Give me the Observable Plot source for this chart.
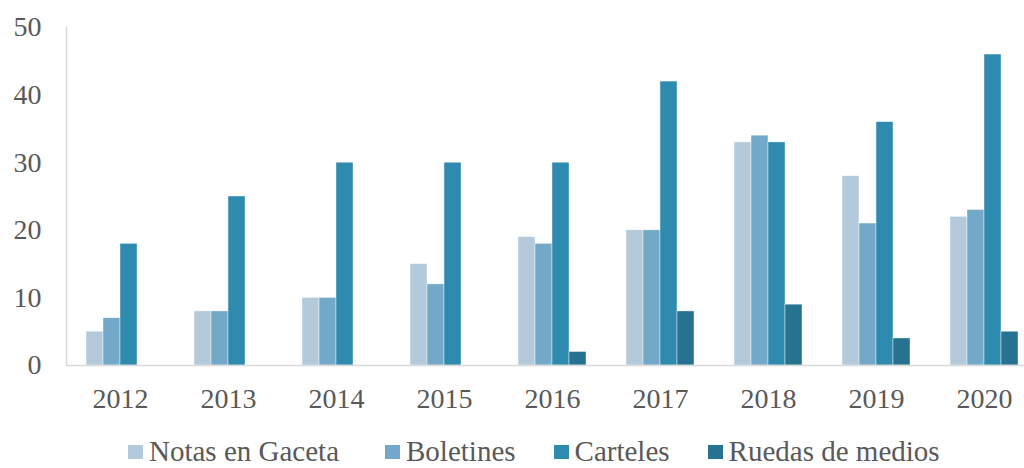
<!DOCTYPE html>
<html>
<head>
<meta charset="utf-8">
<script src="https://cdn.jsdelivr.net/npm/d3@7"></script>
<script src="https://cdn.jsdelivr.net/npm/@observablehq/plot@0.6"></script>
<style>
  html, body { margin: 0; padding: 0; background: #fff; overflow: hidden; width: 1024px; height: 468px; }
  #chart { position: absolute; left: 0; top: 0; width: 1040px; }
  #chart svg { max-width: none !important; }
  #legend { position: absolute; top: 439px; left: 128px; display: flex; align-items: center;
    font-family: "Liberation Serif", "Times New Roman", serif; font-size: 29px; line-height: 24px; color: #595959; white-space: nowrap; }
  #legend .item { display: flex; align-items: center; }
  #legend .sw { width: 15px; height: 14px; margin-right: 6px; position: relative; top: 1px; }
</style>
</head>
<body>
<div id="chart"></div>
<div id="legend"></div>
<script>
const years = ["2012","2013","2014","2015","2016","2017","2018","2019","2020"];
const series = ["Notas en Gaceta","Boletines","Carteles","Ruedas de medios"];
const colors = ["#b3c9dc","#73a9c8","#2e8aaf","#287291"];
const notas    = [5, 8, 10, 15, 19, 20, 33, 28, 22];
const boletines= [7, 8, 10, 12, 18, 20, 34, 21, 23];
const carteles = [18, 25, 30, 30, 30, 42, 33, 36, 46];
const ruedas   = [0, 0, 0, 0, 2, 8, 9, 4, 5];
const yTicks = [0, 10, 20, 30, 40, 50];

const valuesBySeries = [notas, boletines, carteles, ruedas];
const data = [];
years.forEach((yr, i) => {
  series.forEach((s, j) => {
    data.push({year: yr, series: s, value: valuesBySeries[j][i]});
  });
});

const font = '"Liberation Serif", "Times New Roman", serif';

const plot = Plot.plot({
  width: 1040,
  height: 430,
  marginLeft: 66,
  marginRight: 2,
  marginTop: 27,
  marginBottom: 65,
  style: {fontFamily: font, fontSize: "28px", color: "#595959", background: "white", overflow: "visible", maxWidth: "none"},
  fx: {domain: years, padding: 0, label: null, axis: null},
  x: {domain: series, padding: 0, paddingOuter: 1.086, axis: null},
  y: {domain: [0, 50], ticks: yTicks, label: null},
  color: {domain: series, range: colors},
  marks: [
    Plot.barY(data.filter(d => d.value > 0), {
      fx: "year", x: "series", y: "value", fill: "series",
      stroke: "white", strokeWidth: 0.6, strokeOpacity: 0.7
    }),
    Plot.ruleY([0], {stroke: "#d9d9d9", strokeWidth: 1.5}),
    Plot.frame({anchor: "left", facetAnchor: "left", stroke: "#d9d9d9", strokeWidth: 1.5}),
    Plot.axisY({ticks: yTicks, tickSize: 0, tickPadding: 25, label: null, fill: "#595959", fontSize: 28}),
    Plot.axisFx({anchor: "bottom", tickSize: 0, tickPadding: 23, label: null, fill: "#595959", fontSize: 28})
  ]
});
document.getElementById("chart").appendChild(plot);

const legend = document.getElementById("legend");
const gaps = [46, 38, 38, 0];
series.forEach((s, j) => {
  const item = document.createElement("div");
  item.className = "item";
  item.style.marginRight = gaps[j] + "px";
  const sw = document.createElement("span");
  sw.className = "sw";
  sw.style.background = colors[j];
  const t = document.createElement("span");
  t.textContent = s;
  item.appendChild(sw);
  item.appendChild(t);
  legend.appendChild(item);
});
</script>
</body>
</html>
